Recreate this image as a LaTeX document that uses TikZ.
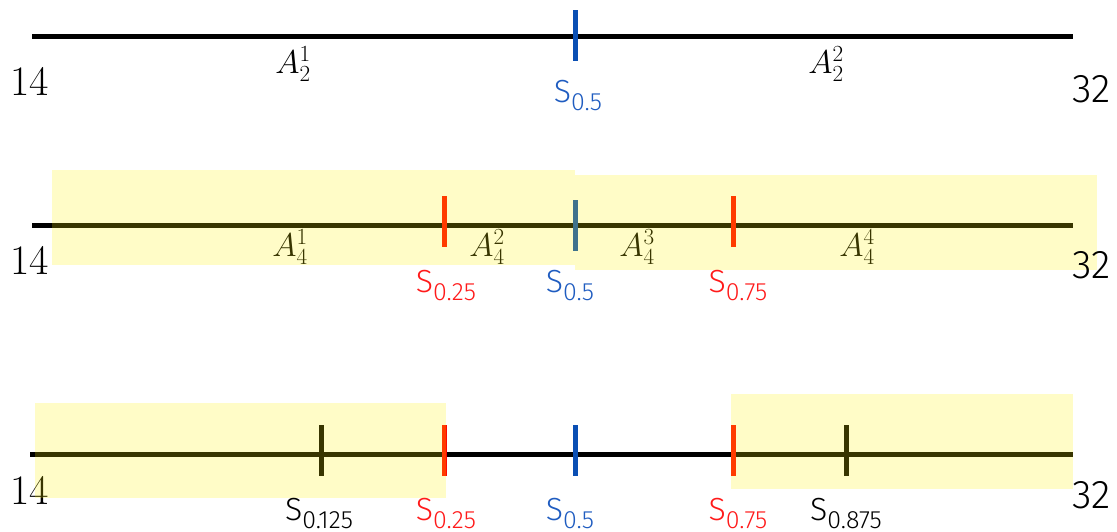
\documentclass[tikz,border=0pt]{standalone}
\usepackage{fix-cm}
\usepackage{fontspec}
\setsansfont{Fira Sans Light}
\definecolor{tickblue}{HTML}{0A4FB4}
\definecolor{tickred}{HTML}{FF0800}
\definecolor{labblue}{HTML}{1F5CC0}
\definecolor{labred}{HTML}{FF1A1A}
\newcommand{\slab}[1]{{\sffamily\fontsize{32}{32}\selectfont S\raisebox{-0.25em}{\fontsize{25}{25}\selectfont #1}}}
\newcommand{\alab}[2]{\fontsize{33}{33}\selectfont$A^{#1}_{#2}$}
\begin{document}
\begin{tikzpicture}[x=1pt,y=-1pt,
  axis/.style={line width=5pt},
  tickb/.style={line width=5pt,tickblue},
  tickr/.style={line width=5pt,tickred},
  tickk/.style={line width=5pt,black},
  overlay/.style={fill=yellow,fill opacity=0.22,draw=none},
  endlab/.style={inner sep=0pt,font=\fontsize{42}{42}\selectfont},
  endlabR/.style={inner sep=0pt,font=\sffamily\fontsize{40}{40}\selectfont},
  alabel/.style={inner sep=0pt},
  slabel/.style={inner sep=0pt}]
\useasboundingbox (0,0) rectangle (1117,531);
% ---------- Row 1
\coordinate (r1a) at (32,36); \coordinate (r1b) at (1073,36);
\draw[axis] (r1a) -- (r1b);
\coordinate (t1t) at (575,10); \coordinate (t1b) at (575,61);
\draw[tickb] (t1t) -- (t1b);
\node[alabel] (a21) at (293,64) {\alab{1}{2}};
\node[alabel] (a22) at (826,64) {\alab{2}{2}};
\node[slabel,text=labblue] (s1) at (578,95) {\slab{0.5}};
\node[endlab] (n14a) at (30,81) {14};
\node[endlabR] (n32a) at (1092,89) {32};
% ---------- Row 2
\coordinate (r2a) at (32,225); \coordinate (r2b) at (1073,225);
\draw[axis] (r2a) -- (r2b);
\coordinate (t2at) at (444,196); \coordinate (t2ab) at (444,247);
\coordinate (t2bt) at (575,200); \coordinate (t2bb) at (575,251);
\coordinate (t2ct) at (733,196); \coordinate (t2cb) at (733,247);
\draw[tickr] (t2at) -- (t2ab);
\draw[tickb] (t2bt) -- (t2bb);
\draw[tickr] (t2ct) -- (t2cb);
\node[alabel] (a41) at (290,247) {\alab{1}{4}};
\node[alabel] (a42) at (487,247) {\alab{2}{4}};
\node[alabel] (a43) at (637,247) {\alab{3}{4}};
\node[alabel] (a44) at (857,247) {\alab{4}{4}};
\node[endlab] (n14b) at (30,260) {14};
\fill[overlay] (52,170) rectangle (575,265);
\fill[overlay] (575,175) rectangle (1097,270);
\node[endlabR] (n32b) at (1092,265) {32};
\node[slabel,text=labred] (s2a) at (446,285) {\slab{0.25}};
\node[slabel,text=labblue] (s2b) at (570,285) {\slab{0.5}};
\node[slabel,text=labred] (s2c) at (738,285) {\slab{0.75}};
% ---------- Row 3
\coordinate (r3a) at (30,454); \coordinate (r3b) at (1073,454);
\draw[axis] (r3a) -- (r3b);
\coordinate (t3at) at (321,425); \coordinate (t3ab) at (321,476);
\coordinate (t3bt) at (444,425); \coordinate (t3bb) at (444,476);
\coordinate (t3ct) at (575,425); \coordinate (t3cb) at (575,476);
\coordinate (t3dt) at (733,425); \coordinate (t3db) at (733,476);
\coordinate (t3et) at (846,425); \coordinate (t3eb) at (846,476);
\draw[tickk] (t3at) -- (t3ab);
\draw[tickr] (t3bt) -- (t3bb);
\draw[tickb] (t3ct) -- (t3cb);
\draw[tickr] (t3dt) -- (t3db);
\draw[tickk] (t3et) -- (t3eb);
\node[endlab] (n14c) at (30,490) {14};
\fill[overlay] (35,403) rectangle (446,498);
\fill[overlay] (731,394) rectangle (1073,489);
\node[endlabR] (n32c) at (1092,495) {32};
\node[slabel,text=black] (s3a) at (319,513) {\slab{0.125}};
\node[slabel,text=labred] (s3b) at (446,513) {\slab{0.25}};
\node[slabel,text=labblue] (s3c) at (570,513) {\slab{0.5}};
\node[slabel,text=labred] (s3d) at (738,513) {\slab{0.75}};
\node[slabel,text=black] (s3e) at (846,513) {\slab{0.875}};
\end{tikzpicture}
\end{document}
